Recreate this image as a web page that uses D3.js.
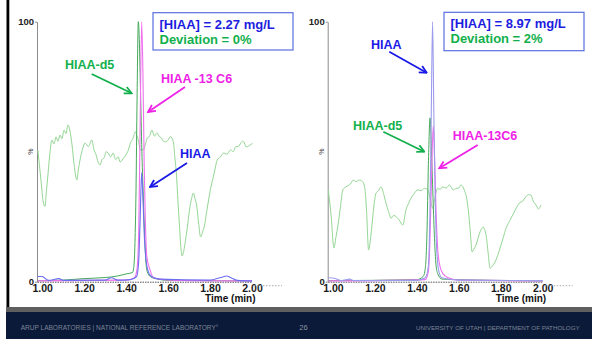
<!DOCTYPE html>
<html>
<head>
<meta charset="utf-8">
<script src="https://cdn.jsdelivr.net/npm/d3@7"></script>
<style>
html, body { margin: 0; padding: 0; background: #fff; }
svg { display: block; font-family: "Liberation Sans", Arial, sans-serif; }
</style>
</head>
<body>
<script>
// time axis
const xTicks = [1.00, 1.20, 1.40, 1.60, 1.80, 2.00];
const timeDomain = [0.975, 2.0];

// left run: [time (min), %]
const leftNoise = [[0.979,50.7],[0.994,39],[1.004,31],[1.013,29],[1.020,35],[1.027,41],[1.036,49],[1.046,54.5],[1.056,53],[1.066,55.7],[1.075,54],[1.085,56.4],[1.094,55],[1.104,58.3],[1.113,57],[1.123,60.3],[1.132,58],[1.142,52.6],[1.152,45],[1.165,39.1],[1.172,43],[1.180,46.8],[1.192,51],[1.204,53.3],[1.220,52],[1.236,54.5],[1.246,51],[1.257,48.7],[1.266,46],[1.276,44.9],[1.285,47],[1.295,47.6],[1.304,50],[1.314,49.5],[1.326,48],[1.338,49.5],[1.350,47],[1.362,48],[1.372,46],[1.381,46.8],[1.392,48],[1.404,49.5],[1.412,51],[1.420,53.3],[1.432,55],[1.444,57.7],[1.452,56],[1.458,54.5],[1.467,50.7],[1.482,50.7],[1.492,53],[1.501,55.3],[1.512,56],[1.523,58.3],[1.535,56],[1.547,57.2],[1.557,56],[1.568,55.3],[1.578,54],[1.587,53.8],[1.600,54.5],[1.611,55.8],[1.625,53.8],[1.632,48],[1.640,41],[1.647,31],[1.654,21.8],[1.660,14],[1.667,9.9],[1.675,12],[1.683,16],[1.692,21],[1.702,27.6],[1.712,32],[1.721,34.1],[1.728,32],[1.736,29.5],[1.745,23],[1.755,17.2],[1.764,19],[1.774,21.8],[1.784,27],[1.793,31.4],[1.803,36],[1.812,39.1],[1.823,43],[1.834,46.8],[1.850,48],[1.865,49.5],[1.880,49],[1.898,50.7],[1.910,50],[1.922,51.9],[1.935,52],[1.946,53.3],[1.955,54],[1.962,53.8],[1.970,52],[1.978,51.9],[1.990,52.5],[2.002,53.2]];
const leftD5 = [[0.978,0.4],[1.10,0.6],[1.20,1.2],[1.30,1.6],[1.36,2.2],[1.40,3.0],[1.43,3.5],[1.437,6],[1.442,15],[1.447,35],[1.452,70],[1.458,100],[1.462,95],[1.468,75],[1.475,50],[1.481,35],[1.488,18],[1.495,7],[1.50,4],[1.515,2],[1.55,1],[1.60,0.5],[1.80,0.4],[2.0,0.3]];
const leftC6 = [[0.978,0.3],[1.40,0.6],[1.44,1.5],[1.452,5],[1.46,20],[1.466,55],[1.474,100],[1.48,80],[1.486,45],[1.492,22],[1.498,10],[1.514,4.5],[1.53,1.5],[1.58,0.8],[1.70,0.4],[2.0,0.3]];
const leftHIAA = [[0.978,2],[1.0,2],[1.01,1.5],[1.03,0.5],[1.08,1.2],[1.10,0.5],[1.30,0.6],[1.33,1.5],[1.36,0.6],[1.42,0.8],[1.45,2],[1.46,8],[1.466,22],[1.474,42],[1.48,32],[1.487,17],[1.495,8],[1.505,4],[1.52,2],[1.56,1],[1.80,0.6],[1.85,1.6],[1.879,2.2],[1.90,1.5],[1.93,0.5],[2.0,0.3]];

// right run: [time (min), %]
const rightNoise = [[0.978,35.3],[0.991,25.7],[1.005,13],[1.014,17],[1.024,21.8],[1.036,29],[1.047,35.3],[1.062,36.5],[1.078,37.2],[1.087,38],[1.097,39.1],[1.110,38.5],[1.126,39.1],[1.142,38.5],[1.153,35.3],[1.160,27.6],[1.170,12.2],[1.181,17.9],[1.196,29.5],[1.205,34],[1.217,35],[1.229,36.5],[1.241,34],[1.253,30.2],[1.265,27],[1.277,24.4],[1.290,25.5],[1.301,25],[1.316,23.7],[1.333,21.8],[1.348,27.6],[1.360,30],[1.372,32.1],[1.388,34],[1.404,35.3],[1.420,35],[1.436,35.9],[1.453,35.3],[1.466,31],[1.476,28.2],[1.488,33],[1.499,35.9],[1.511,35.5],[1.523,36.5],[1.540,36],[1.555,37.2],[1.574,35.3],[1.587,35.9],[1.600,36],[1.610,37.2],[1.626,35.3],[1.639,31.4],[1.650,23.7],[1.657,17],[1.663,11.5],[1.672,12.5],[1.682,14.1],[1.701,19.1],[1.717,21],[1.723,20],[1.730,18],[1.740,11],[1.749,5.2],[1.760,6],[1.773,7.6],[1.785,10],[1.797,13],[1.812,17],[1.825,20.5],[1.840,23],[1.857,25.7],[1.872,28],[1.888,30.2],[1.905,31],[1.920,32.7],[1.932,33.5],[1.944,33.3],[1.955,31],[1.968,29.5],[1.980,28],[1.992,29.5]];
const rightD5 = [[0.978,0.4],[1.40,0.8],[1.43,2],[1.44,5],[1.448,18],[1.455,45],[1.463,63],[1.47,50],[1.478,30],[1.485,15],[1.492,6],[1.50,3],[1.52,1],[2.0,0.3]];
const rightC6 = [[0.978,0.3],[1.44,0.8],[1.455,4],[1.462,15],[1.47,40],[1.478,60],[1.485,46],[1.492,26],[1.50,12],[1.51,6],[1.525,3],[1.55,1.5],[1.60,0.6],[2.0,0.3]];
const rightHIAA = [[0.978,1.5],[1.01,1.2],[1.04,0.4],[1.08,1],[1.10,0.4],[1.40,0.5],[1.44,1.5],[1.455,6],[1.462,25],[1.468,60],[1.475,100],[1.481,65],[1.488,30],[1.495,12],[1.505,4],[1.52,1.5],[1.6,0.6],[2.0,0.4]];

const results = [
    { conc: "[HIAA] = 2.27 mg/L", dev: "Deviation = 0%" },
    { conc: "[HIAA] = 8.97 mg/L", dev: "Deviation = 2%" }
];

const w = 592, h = 339;
const plotW = 215;
const yTop = 21.7, yBottom = 281.7;

const GREEN = "#12b04c", MAGENTA = "#ee22e6", BLUE = "#1a1ae6";

const panels = [
    {
        left: 37, noise: leftNoise, d5: leftD5, c6: leftC6, hiaa: leftHIAA, hiaaColor: "#6e6ef0",
        res: results[0], box: [153, 12.7, 140, 37.3],
        labels: [
            { text: "HIAA-d5", x: 65, y: 68.5, color: GREEN, arrow: [91.7, 74, 131.7, 93.3] },
            { text: "HIAA -13 C6", x: 161, y: 82.5, color: MAGENTA, arrow: [185, 87, 148, 112] },
            { text: "HIAA", x: 180, y: 157.5, color: BLUE, arrow: [187, 163, 150, 187] }
        ]
    },
    {
        left: 327.7, noise: rightNoise, d5: rightD5, c6: rightC6, hiaa: rightHIAA, hiaaColor: "#9c9cec",
        res: results[1], box: [444, 12.3, 140, 38.4],
        labels: [
            { text: "HIAA", x: 371, y: 48.5, color: BLUE, arrow: [389.3, 51.7, 426.7, 72.7] },
            { text: "HIAA-d5", x: 353, y: 129.5, color: GREEN, arrow: [383.3, 131.7, 424.3, 151.7] },
            { text: "HIAA-13C6", x: 452.7, y: 139.5, color: MAGENTA, arrow: [477.7, 145, 439.3, 168.3] }
        ]
    }
];

const svg = d3.select("body")
    .append("svg")
    .attr("width", w)
    .attr("height", h);

// arrow heads
const defs = svg.append("defs");
[["g", GREEN], ["m", MAGENTA], ["b", BLUE]].forEach(([id, c]) => {
    defs.append("marker")
        .attr("id", "arr-" + id)
        .attr("viewBox", "0 0 10 10")
        .attr("refX", 9).attr("refY", 5)
        .attr("markerWidth", 5).attr("markerHeight", 5)
        .attr("orient", "auto")
        .append("path")
        .attr("d", "M1,1 L9,5 L1,9")
        .attr("fill", "none")
        .attr("stroke", c)
        .attr("stroke-width", 2);
});

svg.append("rect").attr("width", w).attr("height", h).attr("fill", "#fff");

panels.forEach(p => {
    const x = d3.scaleLinear().domain(timeDomain).range([p.left, p.left + plotW]);
    const y = d3.scaleLinear().domain([0, 100]).range([yBottom, yTop]);
    const line = d3.line().x(d => x(d[0])).y(d => y(d[1])).curve(d3.curveMonotoneX);

    const g = svg.append("g");

    // y axis
    const yAxisG = g.append("g")
        .attr("transform", `translate(${p.left},0)`)
        .call(d3.axisLeft(y).tickValues([0, 100]).tickSize(2).tickSizeOuter(0).tickPadding(1).tickFormat(d3.format("d")));
    yAxisG.select(".domain").attr("stroke", "#8c8c8c");
    yAxisG.selectAll(".tick line").attr("stroke", "#8c8c8c");
    yAxisG.selectAll("text")
        .attr("font-size", "9.5px")
        .attr("font-weight", "bold")
        .attr("fill", "#222");
    g.append("text")
        .attr("transform", `translate(${p.left - 4},${y(50)}) rotate(-90)`)
        .attr("text-anchor", "middle")
        .attr("font-size", "7px")
        .attr("fill", "#444")
        .text("%");

    // x axis
    const xAxisG = g.append("g")
        .attr("transform", `translate(0,${yBottom})`)
        .call(d3.axisBottom(x).tickValues(xTicks).tickSize(0).tickSizeOuter(0).tickPadding(3).tickFormat(d3.format(".2f")));
    xAxisG.select(".domain")
        .attr("stroke", "#555")
        .attr("stroke-dasharray", "1.5,1");
    xAxisG.selectAll("text")
        .attr("font-size", "10.5px")
        .attr("font-weight", "bold")
        .attr("fill", "#1a1a1a");

    g.append("line")
        .attr("x1", x(2.0) + 2).attr("x2", x(2.0) + 30)
        .attr("y1", yBottom + 4).attr("y2", yBottom + 4)
        .attr("stroke", "#aaa")
        .attr("stroke-dasharray", "1.5,1.5");

    g.append("text")
        .attr("x", x(2.0) + 3.5)
        .attr("y", 302)
        .attr("text-anchor", "end")
        .attr("font-size", "10px")
        .attr("font-weight", "bold")
        .attr("fill", "#111")
        .text("Time (min)");

    // traces
    g.append("path").datum(p.noise).attr("d", line)
        .attr("fill", "none").attr("stroke", "#94d694").attr("stroke-width", 1);
    g.append("path").datum(p.d5).attr("d", line)
        .attr("fill", "none").attr("stroke", "#45a85a").attr("stroke-width", 1);
    g.append("path").datum(p.c6).attr("d", line)
        .attr("fill", "none").attr("stroke", "#f070ee").attr("stroke-width", 1.1);
    g.append("path").datum(p.hiaa).attr("d", line)
        .attr("fill", "none").attr("stroke", p.hiaaColor).attr("stroke-width", 1.1);

    // result box
    g.append("rect")
        .attr("x", p.box[0]).attr("y", p.box[1])
        .attr("width", p.box[2]).attr("height", p.box[3])
        .attr("fill", "#fff")
        .attr("stroke", "#5a6ee0")
        .attr("stroke-width", 1.2);
    g.append("text")
        .attr("x", p.box[0] + 6.5).attr("y", p.box[1] + 16)
        .attr("font-size", "13px").attr("font-weight", "bold")
        .attr("fill", "#1c1ce0")
        .text(p.res.conc);
    g.append("text")
        .attr("x", p.box[0] + 6.5).attr("y", p.box[1] + 31)
        .attr("font-size", "13px").attr("font-weight", "bold")
        .attr("fill", GREEN)
        .text(p.res.dev);

    // peak labels
    p.labels.forEach(l => {
        const id = l.color === GREEN ? "g" : l.color === MAGENTA ? "m" : "b";
        g.append("text")
            .attr("x", l.x).attr("y", l.y)
            .attr("font-size", "12.5px").attr("font-weight", "bold")
            .attr("fill", l.color)
            .text(l.text);
        g.append("line")
            .attr("x1", l.arrow[0]).attr("y1", l.arrow[1])
            .attr("x2", l.arrow[2]).attr("y2", l.arrow[3])
            .attr("stroke", l.color)
            .attr("stroke-width", 1.8)
            .attr("marker-end", `url(#arr-${id})`);
    });
});

// slide frame and footer
svg.append("rect").attr("x", 6.5).attr("y", 0).attr("width", 2.8).attr("height", 307).attr("fill", "#000");
svg.append("rect").attr("x", 6).attr("y", 307).attr("width", w - 6).attr("height", 5).attr("fill", "#5f5f5f");
svg.append("rect").attr("x", 6).attr("y", 312).attr("width", w - 6).attr("height", h - 312).attr("fill", "#0b1a39");

// footer texts, sized to fit their measured widths
function footerText(str, x0, width, color) {
    const t = svg.append("text")
        .attr("x", x0).attr("y", 330)
        .attr("font-size", "10px").attr("fill", color)
        .text(str);
    const len = t.node().getComputedTextLength();
    if (width) t.attr("font-size", (10 * width / len).toFixed(2) + "px");
    return t;
}
footerText("ARUP LABORATORIES | NATIONAL REFERENCE LABORATORY\u00b0", 20.7, 198, "#7c8596");
footerText("26", 299.3, 8.5, "#8a93a3");
footerText("UNIVERSITY OF UTAH | DEPARTMENT OF PATHOLOGY", 416, 164, "#7c8596");
</script>
</body>
</html>
